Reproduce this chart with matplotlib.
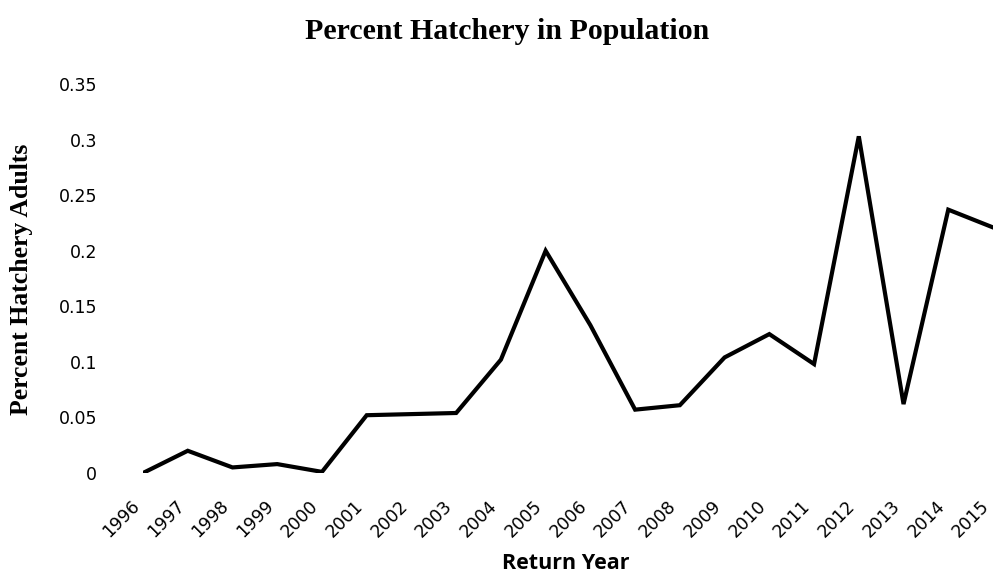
import matplotlib
matplotlib.use('Agg')
import matplotlib.pyplot as plt

years = [1996, 1997, 1998, 1999, 2000, 2001, 2002, 2003, 2004, 2005,
         2006, 2007, 2008, 2009, 2010, 2011, 2012, 2013, 2014, 2015]
pct_hatchery = [0.0, 0.02, 0.005, 0.008, 0.001, 0.052, 0.053, 0.054, 0.102, 0.2,
                0.133, 0.057, 0.061, 0.104, 0.125, 0.098, 0.303, 0.062, 0.237, 0.221]
y_ticks = [0, 0.05, 0.1, 0.15, 0.2, 0.25, 0.3, 0.35]
y_tick_labels = ['0', '0.05', '0.1', '0.15', '0.2', '0.25', '0.3', '0.35']

fig = plt.figure(figsize=(9.98, 5.8), dpi=100)
ax = fig.add_axes([0.1433, 0.1845, 0.8517, 0.6705])

ax.plot(years, pct_hatchery, color='black', linewidth=3.0, solid_joinstyle='miter')
ax.set_xlim(1996, 2015)
ax.set_ylim(0, 0.35)
ax.set_xticks(years)
ax.set_xticklabels([str(y) for y in years], rotation=45, ha='right', va='top',
                   fontsize=12.5, family='DejaVu Sans')
ax.set_yticks(y_ticks)
ax.set_yticklabels(y_tick_labels, fontsize=12.5, family='DejaVu Sans')
ax.tick_params(axis='y', length=0, pad=33)
ax.tick_params(axis='x', length=0, pad=17)
for s in ax.spines.values():
    s.set_visible(False)

fig.text(0.5085, 0.946, 'Percent Hatchery in Population', ha='center', va='center',
         fontsize=21.5, fontweight='bold', family='Liberation Serif')
fig.text(0.022, 0.519, 'Percent Hatchery Adults', ha='center', va='center', rotation=90,
         fontsize=18.5, fontweight='bold', family='Liberation Serif')
fig.text(0.567, 0.019, 'Return Year', ha='center', va='baseline',
         fontsize=15.5, fontweight='bold', family='Open Sans')

fig.savefig('out.png', dpi=100)
